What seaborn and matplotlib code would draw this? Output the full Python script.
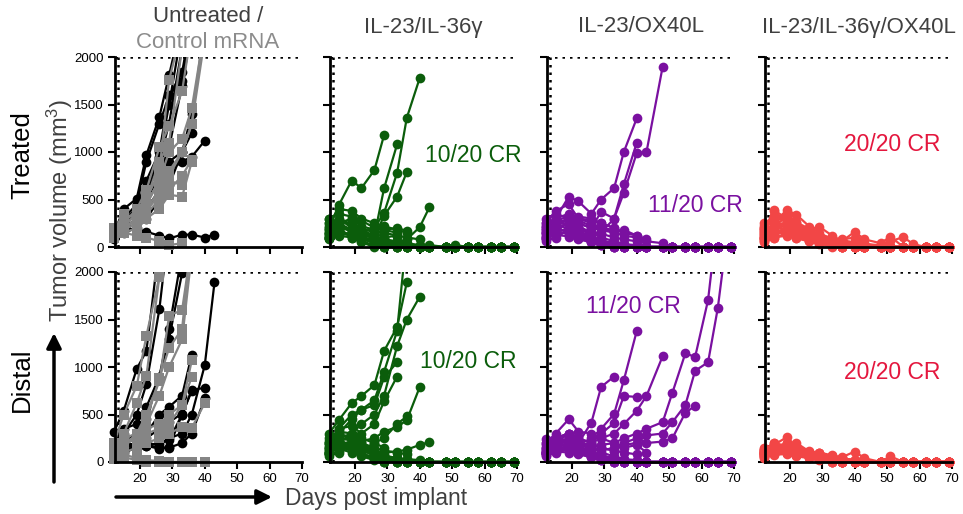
import pandas as pd
import seaborn as sns
import matplotlib.pyplot as plt
from matplotlib.patches import Rectangle

# measurement days (post implant)
days = [12, 15, 19, 22, 26, 29, 33, 36, 40, 43, 48, 51, 55, 58, 62, 65, 69]

# ---- Untreated (black circles) / Control mRNA (grey squares) ----
ctrl_treated_untx = [
    [150, 400, 510, 970, 1370, 1810, 2400],
    [120, 300, 450, 900, 1300, 1590, 1840, 2400],
    [100, 250, 420, 700, 1000, 1600, 1750, 2500],
    [90, 200, 300, 500, 750, 1050, 1700, 2300],
    [110, 180, 250, 400, 600, 800, 900, 950, 1120],
    [80, 150, 200, 300, 500, 650, 1000, 1400],
    [150, 200, 180, 160, 120, 90, 130, 130, 100, 130],
    [100, 250, 350, 550, 900, 1300, 2100],
    [140, 300, 380, 600, 700, 900, 1000, 1200],
    [120, 220, 380, 600, 950, 1500, 2300],
]
ctrl_treated_mrna = [
    [200, 300, 350, 500, 800, 1760, 2300],
    [150, 250, 400, 600, 1050, 1270, 1640, 2300],
    [100, 200, 300, 450, 700, 1000, 1140, 1460, 2300],
    [180, 350, 300, 400, 600, 800, 1000, 1290, 2200],
    [120, 180, 250, 350, 500, 600, 750, 920],
    [90, 150, 200, 300, 400, 550, 530, 900],
    [140, 220, 350, 500, 900, 1100, 2100],
    [100, 150, 120, 100, 60, 20, 40],
    [160, 240, 330, 450, 700, 750, 1000, 1300, 2400],
    [110, 200, 280, 380, 550, 700, 650],
]
ctrl_distal_untx = [
    [320, 540, 980, 1170, 2300],
    [200, 300, 500, 820, 1610, 2500],
    [150, 200, 300, 450, 900, 1300, 1990],
    [100, 150, 180, 200, 180, 250, 300, 500, 1020, 1890],
    [80, 120, 150, 170, 200, 230, 500, 760, 780],
    [100, 150, 200, 300, 500, 580, 700, 1130],
    [120, 130, 160, 180, 150, 150, 200, 300, 670],
    [90, 200, 180, 170, 140, 160, 500, 750],
    [60, 100, 150, 250, 350, 420, 510],
    [200, 350, 400, 580, 900, 1400, 2200],
]
ctrl_distal_mrna = [
    [200, 500, 800, 1330, 1950, 2500],
    [100, 300, 620, 910, 1950],
    [50, 150, 300, 500, 850, 1540, 1600, 2300],
    [80, 180, 250, 400, 700, 1000, 1290, 2200],
    [150, 250, 300, 450, 880, 1200, 1400, 2400],
    [100, 200, 280, 350, 400, 500, 600, 1070],
    [60, 100, 150, 200, 250, 300, 370, 360, 620],
    [50, 80, 40, 20, 10, 0, 0, 0, 0],
    [30, 50, 20, 0, 0, 0, 0, 0, 0],
    [120, 200, 250, 300, 350, 400, 600, 900],
]

# ---- IL-23/IL-36gamma ----
il36_treated = [
    [200, 440, 700, 620, 810, 1180],
    [150, 200, 180, 150, 200, 360, 780, 1360, 1780],
    [120, 180, 200, 150, 120, 620, 1080],
    [90, 130, 150, 180, 100, 330, 530, 790],
    [100, 150, 120, 100, 80, 60, 50, 80, 210, 420],
    [250, 400, 380, 300, 250, 220, 180, 150],
    [300, 350, 320, 280, 200, 180, 150],
    [150, 280, 250, 200, 150, 100, 120, 100, 80],
    [180, 250, 300, 220, 180, 150, 120],
    [100, 200, 180, 150, 120, 180, 200, 170],
    [150, 200, 100, 50, 0, 0, 0, 0, 0, 0, 0, 0, 0, 0, 0, 0, 0],
    [250, 300, 200, 150, 80, 40, 20, 0, 0, 20, 0, 0, 0, 0, 0, 0, 0],
    [100, 150, 120, 80, 50, 20, 0, 0, 0, 0, 0, 0, 0, 0, 0, 0, 0],
    [200, 250, 180, 120, 100, 60, 40, 20, 0, 0, 0, 0, 0, 0, 0, 0, 0],
    [300, 250, 150, 100, 60, 30, 0, 0, 0, 0, 0, 0, 0, 0, 0, 0, 0],
    [120, 180, 200, 150, 100, 80, 50, 30, 10, 0, 0, 20, 0, 0, 0, 0, 0],
    [180, 220, 160, 90, 40, 0, 0, 0, 0, 0, 0, 0, 0, 0, 0, 0, 0],
    [80, 120, 100, 60, 20, 0, 0, 0, 0, 0, 0, 0, 0, 0, 0, 0, 0],
    [220, 280, 240, 180, 120, 80, 60, 40, 20, 0, 0, 0, 0, 0, 0, 0, 0],
    [140, 160, 130, 100, 70, 50, 30, 0, 0, 0, 0, 0, 0, 0, 0, 0, 0],
]
il36_distal = [
    [300, 440, 620, 695, 810, 1170, 1420, 1890],
    [150, 250, 300, 400, 500, 700, 1220, 1500, 1740],
    [200, 350, 500, 550, 650, 950, 1380, 2400],
    [100, 150, 200, 220, 250, 320, 370, 440, 790],
    [150, 200, 180, 160, 120, 100, 110, 130, 180, 210],
    [120, 300, 450, 550, 600, 890, 1050],
    [200, 350, 380, 300, 400, 640, 900],
    [80, 200, 150, 120, 200, 250, 400, 480],
    [250, 320, 300, 250, 200, 150],
    [100, 180, 220, 200, 150, 120, 100, 80],
    [180, 250, 150, 80, 30, 0, 0, 0, 0, 0, 0, 0, 0, 0, 0, 0, 0],
    [100, 200, 300, 200, 120, 60, 30, 0, 0, 0, 0, 0, 0, 0, 0, 0, 0],
    [220, 180, 120, 60, 20, 0, 0, 0, 0, 0, 0, 0, 0, 0, 0, 0, 0],
    [60, 120, 200, 150, 80, 40, 20, 0, 0, 0, 0, 0, 0, 0, 0, 0, 0],
    [140, 260, 220, 140, 90, 50, 20, 10, 0, 0, 0, 0, 0, 0, 0, 0, 0],
    [90, 150, 130, 90, 50, 20, 0, 0, 0, 0, 0, 0, 0, 0, 0, 0, 0],
    [160, 220, 260, 180, 100, 60, 40, 30, 20, 0, 0, 0, 0, 0, 0, 0, 0],
    [120, 140, 100, 70, 40, 0, 0, 0, 0, 0, 0, 0, 0, 0, 0, 0, 0],
    [200, 300, 250, 160, 100, 70, 40, 20, 0, 0, 0, 0, 0, 0, 0, 0, 0],
    [80, 100, 180, 120, 70, 30, 0, 0, 0, 0, 0, 0, 0, 0, 0, 0, 0],
]

# ---- IL-23/OX40L ----
ox40_treated = [
    [200, 300, 530, 480, 350, 500, 620, 1000, 1355],
    [150, 250, 300, 250, 200, 370, 300, 570, 990, 1000, 1900],
    [100, 200, 250, 200, 150, 150, 300, 660, 1100],
    [250, 380, 450, 300, 250, 200, 150, 180, 120],
    [180, 300, 350, 320, 300, 250, 200, 150, 120, 80],
    [120, 250, 280, 250, 200, 180, 150, 120, 100, 60, 40],
    [300, 350, 300, 280, 220, 200, 180],
    [220, 280, 320, 300, 280, 250, 200, 150],
    [150, 200, 250, 180, 160, 140, 100, 80, 60],
    [200, 250, 180, 100, 50, 20, 0, 0, 0, 0, 0, 0, 0, 0, 0, 0, 0],
    [100, 180, 250, 200, 120, 60, 30, 0, 0, 0, 0, 0, 0, 0, 0, 0, 0],
    [250, 300, 220, 150, 100, 60, 40, 20, 0, 0, 0, 0, 0, 0, 0, 0, 0],
    [150, 200, 160, 110, 70, 30, 0, 0, 0, 0, 0, 0, 0, 0, 0, 0, 0],
    [80, 150, 200, 140, 90, 50, 30, 10, 0, 0, 0, 0, 0, 0, 0, 0, 0],
    [180, 230, 300, 220, 150, 100, 60, 30, 20, 0, 0, 0, 0, 0, 0, 0, 0],
    [120, 160, 140, 100, 60, 20, 0, 0, 0, 0, 0, 0, 0, 0, 0, 0, 0],
    [220, 200, 150, 100, 60, 40, 20, 0, 0, 0, 0, 0, 0, 0, 0, 0, 0],
    [60, 100, 180, 130, 80, 40, 20, 0, 0, 0, 0, 0, 0, 0, 0, 0, 0],
    [160, 270, 230, 170, 110, 70, 40, 20, 0, 0, 0, 0, 0, 0, 0, 0, 0],
    [100, 130, 110, 80, 50, 20, 0, 0, 0, 0, 0, 0, 0, 0, 0, 0, 0],
]
ox40_distal = [
    [100, 150, 200, 180, 250, 350, 505, 860, 1380],
    [100, 200, 300, 200, 415, 790, 900],
    [100, 150, 200, 150, 200, 250, 300, 400, 540, 695, 1115],
    [150, 250, 300, 250, 200, 300, 410, 695, 685],
    [120, 200, 250, 200, 150, 180, 200, 250, 300, 350, 420, 730, 1145, 1105, 1705, 2600],
    [80, 150, 200, 180, 150, 120, 150, 200, 250, 200, 215, 250, 520, 590],
    [100, 180, 220, 200, 180, 150, 120, 180, 200, 280, 300, 420, 600, 960, 1050, 1620, 2700],
    [200, 300, 450, 320, 300, 250, 200, 150, 180, 100],
    [150, 250, 300, 250, 200, 150, 120, 100, 80],
    [180, 220, 160, 100, 50, 20, 0, 0, 0, 0, 0, 0, 0, 0, 0, 0, 0],
    [120, 250, 300, 200, 120, 60, 30, 0, 0, 0, 0, 0, 0, 0, 0, 0, 0],
    [200, 260, 220, 150, 100, 60, 40, 20, 0, 0, 0, 0, 0, 0, 0, 0, 0],
    [90, 160, 140, 110, 70, 30, 0, 0, 0, 0, 0, 0, 0, 0, 0, 0, 0],
    [60, 120, 180, 140, 90, 50, 30, 10, 0, 0, 0, 0, 0, 0, 0, 0, 0],
    [150, 200, 250, 220, 150, 100, 60, 30, 20, 0, 0, 0, 0, 0, 0, 0, 0],
    [110, 140, 120, 100, 60, 20, 0, 0, 0, 0, 0, 0, 0, 0, 0, 0, 0],
    [240, 200, 150, 100, 60, 40, 20, 0, 0, 0, 0, 0, 0, 0, 0, 0, 0],
    [70, 100, 150, 130, 80, 40, 20, 0, 0, 0, 0, 0, 0, 0, 0, 0, 0],
    [130, 230, 200, 170, 110, 70, 40, 20, 0, 0, 0, 0, 0, 0, 0, 0, 0],
    [100, 110, 100, 80, 50, 20, 0, 0, 0, 0, 0, 0, 0, 0, 0, 0, 0],
]

# ---- IL-23/IL-36gamma/OX40L ----
triple_treated = [
    [150, 390, 300, 200, 100, 50, 20, 0, 0, 0, 0, 0, 0, 0, 0, 0, 0],
    [100, 250, 390, 340, 215, 150, 80, 40, 20, 0, 0, 0, 0, 0, 0, 0, 0],
    [200, 300, 350, 250, 180, 215, 120, 60, 160, 80, 40, 110, 0, 0, 0, 0, 0],
    [80, 150, 200, 150, 100, 60, 30, 0, 0, 0, 0, 0, 0, 0, 0, 0, 0],
    [180, 380, 250, 200, 150, 100, 80, 50, 30, 20, 0, 0, 0, 0, 0, 0, 0],
    [120, 200, 250, 180, 120, 90, 60, 80, 100, 40, 0, 60, 105, 30, 0, 0, 0],
    [60, 120, 180, 120, 80, 50, 20, 0, 0, 0, 0, 0, 0, 0, 0, 0, 0],
    [250, 300, 280, 220, 160, 120, 100, 60, 30, 0, 0, 0, 0, 0, 0, 0, 0],
    [140, 180, 160, 130, 100, 80, 50, 20, 0, 0, 0, 0, 0, 0, 0, 0, 0],
    [90, 280, 330, 260, 190, 130, 70, 30, 0, 0, 0, 0, 0, 0, 0, 0, 0],
    [200, 220, 180, 140, 100, 70, 40, 20, 10, 0, 0, 0, 0, 0, 0, 0, 0],
    [110, 160, 140, 100, 60, 30, 0, 0, 0, 0, 0, 0, 0, 0, 0, 0, 0],
    [170, 240, 300, 210, 140, 90, 60, 40, 20, 10, 0, 0, 0, 0, 0, 0, 0],
    [130, 200, 220, 180, 130, 100, 80, 60, 40, 20, 0, 0, 0, 0, 0, 0, 0],
    [70, 100, 120, 90, 60, 40, 20, 0, 0, 0, 0, 0, 0, 0, 0, 0, 0],
    [220, 260, 240, 200, 150, 110, 90, 70, 50, 30, 20, 0, 0, 0, 0, 0, 0],
    [160, 330, 280, 230, 170, 120, 80, 50, 30, 0, 0, 0, 0, 0, 0, 0, 0],
    [100, 140, 200, 160, 110, 80, 50, 30, 0, 0, 0, 0, 0, 0, 0, 0, 0],
    [190, 210, 260, 190, 130, 80, 40, 20, 0, 0, 0, 0, 0, 0, 0, 0, 0],
    [50, 90, 150, 110, 70, 40, 10, 0, 0, 0, 0, 0, 0, 0, 0, 0, 0],
]
triple_distal = [
    [130, 200, 150, 100, 60, 30, 0, 0, 0, 0, 0, 0, 0, 0, 0, 0, 0],
    [100, 180, 260, 160, 120, 90, 60, 40, 20, 0, 0, 0, 0, 0, 0, 0, 0],
    [80, 120, 200, 130, 90, 100, 70, 50, 110, 40, 0, 60, 0, 0, 0, 0, 0],
    [60, 100, 120, 90, 60, 40, 20, 0, 0, 0, 0, 0, 0, 0, 0, 0, 0],
    [120, 150, 180, 200, 110, 80, 50, 30, 0, 0, 0, 0, 0, 0, 0, 0, 0],
    [40, 80, 100, 70, 50, 30, 10, 0, 0, 0, 0, 0, 0, 0, 0, 0, 0],
    [150, 160, 140, 110, 80, 60, 40, 20, 0, 0, 0, 0, 0, 0, 0, 0, 0],
    [90, 140, 190, 150, 100, 70, 30, 10, 0, 0, 0, 0, 0, 0, 0, 0, 0],
    [110, 130, 120, 100, 70, 50, 30, 20, 10, 0, 0, 0, 0, 0, 0, 0, 0],
    [70, 200, 170, 120, 80, 50, 20, 0, 0, 0, 0, 0, 0, 0, 0, 0, 0],
    [130, 110, 90, 70, 50, 30, 0, 0, 0, 0, 0, 0, 0, 0, 0, 0, 0],
    [50, 90, 140, 110, 70, 40, 20, 0, 0, 0, 0, 0, 0, 0, 0, 0, 0],
    [100, 120, 160, 130, 100, 80, 60, 40, 20, 0, 0, 0, 0, 0, 0, 0, 0],
    [80, 100, 110, 90, 60, 30, 10, 0, 0, 0, 0, 0, 0, 0, 0, 0, 0],
    [140, 180, 150, 120, 90, 60, 40, 30, 20, 10, 0, 0, 0, 0, 0, 0, 0],
    [60, 70, 90, 70, 50, 30, 0, 0, 0, 0, 0, 0, 0, 0, 0, 0, 0],
    [120, 150, 200, 140, 100, 60, 30, 20, 0, 0, 0, 0, 0, 0, 0, 0, 0],
    [90, 160, 130, 100, 70, 40, 20, 0, 0, 0, 0, 0, 0, 0, 0, 0, 0],
    [110, 140, 120, 90, 60, 90, 30, 10, 0, 0, 0, 0, 0, 0, 0, 0, 0],
    [70, 90, 80, 60, 40, 20, 0, 0, 0, 0, 0, 0, 0, 0, 0, 0, 0],
]

col_titles = ["IL-23/IL-36γ", "IL-23/OX40L", "IL-23/IL-36γ/OX40L"]
cr_labels = ["10/20 CR", "11/20 CR", "20/20 CR"]
cr_treated_pos = [(56.5, 968), (58, 432), (51.5, 1084)]
cr_distal_pos = [(55, 1063), (39, 1642), (51.5, 947)]

GREEN = "#0b5d0b"
PURPLE = "#7a10a0"
RED = "#f24646"
RED_TXT = "#e4173e"
DARK = "#404040"
GREY = "#858585"


def to_long(mice):
    rows = []
    for i, vols in enumerate(mice):
        for d, v in zip(days, vols):
            rows.append({"mouse": i, "day": d, "volume": v})
    return pd.DataFrame(rows)


def spaghetti(ax, mice, color, marker="o"):
    sns.lineplot(data=to_long(mice), x="day", y="volume", units="mouse",
                 estimator=None, color=color, marker=marker, markersize=7,
                 markeredgewidth=0, linewidth=1.6, legend=False, ax=ax)


sns.set_theme(style="ticks")
plt.rcParams["font.family"] = ["Liberation Sans", "DejaVu Sans"]
plt.rcParams["mathtext.fontset"] = "custom"
plt.rcParams["mathtext.rm"] = "Liberation Sans"
plt.rcParams["mathtext.it"] = "Liberation Sans"

fig = plt.figure(figsize=(9.63, 5.14), dpi=100)
W, H = 963, 514
lefts = [115, 330, 547, 765]
bottoms = [247, 462]

panels = [
    [(ctrl_treated_untx, "black", "o"), (ctrl_treated_mrna, GREY, "s")],
    [(il36_treated, GREEN, "o")],
    [(ox40_treated, PURPLE, "o")],
    [(triple_treated, RED, "o")],
    [(ctrl_distal_untx, "black", "o"), (ctrl_distal_mrna, GREY, "s")],
    [(il36_distal, GREEN, "o")],
    [(ox40_distal, PURPLE, "o")],
    [(triple_distal, RED, "o")],
]
text_colors = [GREEN, PURPLE, RED_TXT]

for k, groups in enumerate(panels):
    row, col = divmod(k, 4)
    ax = fig.add_axes([lefts[col] / W, 1 - bottoms[row] / H, 187 / W, 190 / H])
    for mice, color, marker in groups:
        spaghetti(ax, mice, color, marker)
    clip = Rectangle((-0.06, -0.06), 1.12, 1.06, transform=ax.transAxes)
    for ln in ax.lines:
        ln.set_clip_path(clip)
    ax.axhline(2000, color="black", ls=(0, (1, 2)), lw=1.8, zorder=0)
    ax.axvline(13.2, color="black", ls=(0, (1, 2)), lw=1.8, zorder=0)
    ax.set_xlim(12.3, 70)
    ax.set_ylim(0, 2000)
    ax.set_xticks([20, 30, 40, 50, 60, 70])
    ax.set_yticks([0, 500, 1000, 1500, 2000])
    ax.set_xlabel("")
    ax.set_ylabel("")
    sns.despine(ax=ax)
    for side in ["left", "bottom"]:
        ax.spines[side].set_linewidth(2)
        ax.spines[side].set_color("black")
    ax.tick_params(axis="both", length=5, width=1.5, color="black",
                   labelsize=9.5, labelcolor="black", pad=3)
    ax.tick_params(labelleft=(col == 0), labelbottom=(row == 1))
    if col > 0:
        x, y = (cr_treated_pos if row == 0 else cr_distal_pos)[col - 1]
        ax.text(x, y, cr_labels[col - 1], color=text_colors[col - 1],
                fontsize=16.5, ha="center", va="center")

# column titles
fig.text(208 / W, 1 - 17 / H, "Untreated /", color=DARK, fontsize=16,
         ha="center", va="center")
fig.text(208 / W, 1 - 42 / H, "Control mRNA", color="#8c8c8c", fontsize=16,
         ha="center", va="center")
for col, title in enumerate(col_titles, start=1):
    fig.text((lefts[col] + 93.5) / W, 1 - 27 / H, title, color=DARK,
             fontsize=16, ha="center", va="center")

# row labels and axis titles
fig.text(22 / W, 1 - 155 / H, "Treated", rotation=90, fontsize=18.5,
         color="black", ha="center", va="center")
fig.text(22 / W, 1 - 380 / H, "Distal", rotation=90, fontsize=18.5,
         color="black", ha="center", va="center")
fig.text(60 / W, 1 - 210 / H, "Tumor volume (mm$^3$)", rotation=90,
         fontsize=17, color=DARK, ha="center", va="center")
fig.text(285 / W, 1 - 498 / H, "Days post implant", fontsize=16.5,
         color=DARK, ha="left", va="center")

arrow = dict(arrowstyle="-|>", lw=2.5, color="black", mutation_scale=22,
             shrinkA=0, shrinkB=0)
fig.add_artist(plt.Annotation("", xy=(54 / W, 1 - 333 / H),
                              xytext=(54 / W, 1 - 482 / H),
                              xycoords="figure fraction",
                              textcoords="figure fraction", arrowprops=arrow))
fig.add_artist(plt.Annotation("", xy=(272 / W, 1 - 497 / H),
                              xytext=(116 / W, 1 - 497 / H),
                              xycoords="figure fraction",
                              textcoords="figure fraction", arrowprops=arrow))

fig.savefig("out.png", dpi=100)
